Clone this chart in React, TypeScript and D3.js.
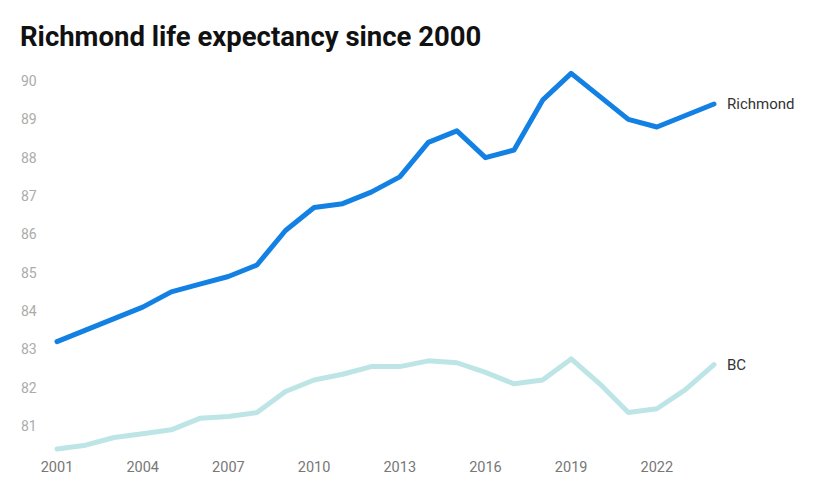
import React from 'react';
import * as d3 from 'd3';

const years = [2001, 2002, 2003, 2004, 2005, 2006, 2007, 2008, 2009, 2010, 2011, 2012,
	2013, 2014, 2015, 2016, 2017, 2018, 2019, 2020, 2021, 2022, 2023, 2024];
const richmond = [83.2, 83.5, 83.8, 84.1, 84.5, 84.7, 84.9, 85.2, 86.1, 86.7, 86.8, 87.1,
	87.5, 88.4, 88.7, 88.0, 88.2, 89.5, 90.2, 89.6, 89.0, 88.8, 89.1, 89.4];
const bc = [80.4, 80.5, 80.7, 80.8, 80.9, 81.2, 81.25, 81.35, 81.9, 82.2, 82.35, 82.55,
	82.55, 82.7, 82.65, 82.4, 82.1, 82.2, 82.75, 82.1, 81.35, 81.45, 81.95, 82.6];
const yTicks = [81, 82, 83, 84, 85, 86, 87, 88, 89, 90];
const xTicks = [2001, 2004, 2007, 2010, 2013, 2016, 2019, 2022];

const series = [
	{ name: 'Richmond', values: richmond, color: '#1380e3' },
	{ name: 'BC', values: bc, color: '#bde5e6' },
];

const width = 815;
const height = 493;
const font = 'Roboto, "Noto Sans", sans-serif';

export default function App() {
	const x = d3.scaleLinear().domain([2001, 2024]).range([57, 714]);
	const y = d3.scaleLinear().domain([81, 90]).range([426, 81]);

	const line = d3.line<number>()
		.x((_, i) => x(years[i]))
		.y(d => y(d));

	return (
		<svg width={width} height={height}
			style={{ position: 'absolute', left: 0, top: 0, background: '#fff' }}>
			<text x={20} y={46} fontFamily={font} fontWeight={700} fontSize={27.5} fill="#111">
				Richmond life expectancy since 2000
			</text>

			<g fontFamily={font} fontSize={14} fill="#ababab">
				{yTicks.map(t => (
					<text key={t} x={21} y={y(t)} dy="0.35em">{t}</text>
				))}
			</g>

			<g fontFamily={font} fontSize={14.5} fill="#777" textAnchor="middle">
				{xTicks.map(t => (
					<text key={t} x={x(t)} y={467} dy="0.35em">{t}</text>
				))}
			</g>

			{series.slice().reverse().map(s => (
				<path key={s.name} d={line(s.values) || ''} fill="none" stroke={s.color}
					strokeWidth={5} strokeLinejoin="round" strokeLinecap="round" />
			))}

			<g fontFamily={font} fontSize={15} fill="#333">
				{series.map(s => (
					<text key={s.name} x={x(2024) + 13} y={y(s.values[s.values.length - 1])} dy="0.35em">
						{s.name}
					</text>
				))}
			</g>
		</svg>
	);
}
